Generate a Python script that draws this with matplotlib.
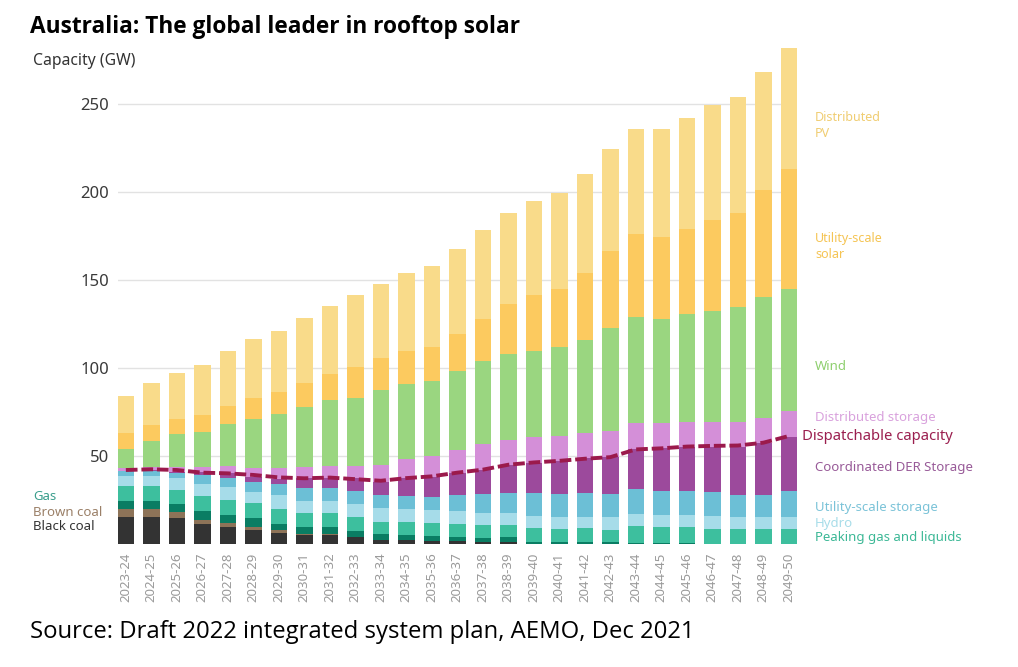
import numpy as np
import matplotlib
matplotlib.use("Agg")
import matplotlib.pyplot as plt

plt.rcParams['font.family'] = ['Noto Sans', 'DejaVu Sans']

years = ['2023-24', '2024-25', '2025-26', '2026-27', '2027-28', '2028-29', '2029-30',
         '2030-31', '2031-32', '2032-33', '2033-34', '2034-35', '2035-36', '2036-37',
         '2037-38', '2038-39', '2039-40', '2040-41', '2041-42', '2042-43', '2043-44',
         '2044-45', '2045-46', '2046-47', '2047-48', '2048-49', '2049-50']

# capacity in GW (bottom to top)
black_coal = [15.1, 15.5, 14.6, 11.3, 9.5, 7.9, 6.5, 5.1, 5.1, 4.2, 2.3, 2.0, 1.8, 1.5,
              1.3, 1.2, 0, 0, 0, 0, 0, 0, 0, 0, 0, 0, 0]
brown_coal = [4.8, 4.4, 3.8, 2.6, 2.6, 1.9, 1.4, 0.6, 0.5, 0, 0, 0, 0, 0,
              0, 0, 0, 0, 0, 0, 0, 0, 0, 0, 0, 0, 0]
gas = [4.7, 4.7, 4.3, 4.8, 4.4, 4.8, 3.7, 3.8, 3.9, 3.2, 3.2, 3.2, 3.0, 2.7,
       1.9, 2.6, 1.3, 1.1, 0.9, 0.9, 0.6, 0.6, 0.4, 0, 0, 0, 0]
peaking_gas = [8.3, 8.3, 7.9, 8.5, 8.5, 8.5, 8.5, 7.9, 7.9, 8.1, 7.2, 7.5, 7.0, 7.0,
               7.6, 7.0, 7.7, 7.3, 8.1, 7.0, 9.6, 8.9, 9.4, 8.3, 8.3, 8.3, 8.3]
hydro = [5.7, 5.9, 6.7, 6.9, 7.2, 6.6, 7.5, 7.2, 7.2, 7.2, 7.6, 7.2, 7.5, 7.5,
         7.0, 7.0, 6.9, 7.1, 6.5, 7.2, 6.8, 7.0, 6.7, 7.6, 7.2, 7.2, 7.2]
utility_storage = [2.6, 2.7, 3.2, 5.1, 5.1, 5.6, 6.3, 7.0, 7.0, 7.4, 7.5, 7.5, 7.6, 9.1,
                   10.6, 11.3, 12.9, 12.9, 13.3, 13.3, 14.2, 13.8, 13.8, 13.8, 12.3, 12.3, 14.8]
coord_der = [0.3, 0.3, 0.5, 1.8, 2.8, 2.9, 3.2, 5.7, 5.7, 7.2, 7.6, 9.9, 11.3, 12.7,
             13.6, 15.7, 17.0, 18.9, 19.8, 20.8, 22.5, 24.0, 25.0, 25.6, 27.5, 29.4, 30.7]
dist_storage = [1.5, 1.7, 2.9, 2.9, 4.2, 4.7, 5.8, 6.2, 7.0, 7.0, 9.4, 10.7, 11.6, 12.9,
                14.7, 14.5, 14.9, 14.0, 14.6, 15.2, 14.7, 14.5, 13.9, 14.1, 14.2, 14.2, 14.3]
wind = [11.1, 15.0, 18.8, 19.7, 24.0, 27.9, 31.1, 34.3, 37.7, 38.6, 42.8, 42.6, 42.6, 44.6,
        47.2, 48.8, 48.8, 50.5, 52.4, 58.4, 60.4, 58.7, 61.6, 62.8, 65.0, 68.8, 69.6]
utility_solar = [9.1, 9.3, 8.5, 9.4, 9.8, 12.1, 12.1, 13.8, 14.3, 17.6, 18.0, 18.8, 19.4, 21.4,
                 24.0, 28.3, 31.6, 33.1, 38.2, 43.5, 47.0, 46.7, 48.2, 51.9, 53.4, 60.5, 68.1]
distributed_pv = [20.8, 23.6, 26.1, 28.8, 31.3, 33.3, 35.0, 36.7, 38.8, 40.8, 42.2, 44.6, 46.1, 48.2,
                  50.1, 51.5, 53.6, 54.5, 56.0, 57.7, 59.9, 61.5, 63.0, 64.9, 65.8, 67.2, 68.7]
dispatchable = [42.0, 42.4, 42.0, 40.5, 40.1, 39.2, 37.8, 37.3, 37.7, 36.8, 35.9, 37.4, 38.4, 40.5,
                42.2, 45.0, 46.3, 47.2, 48.4, 49.3, 53.7, 54.3, 55.3, 55.7, 55.9, 57.5, 61.3]

series = [
    (black_coal, '#333333'),
    (brown_coal, '#8d7358'),
    (gas, '#0a7d63'),
    (peaking_gas, '#3dbf9e'),
    (hydro, '#a6dce9'),
    (utility_storage, '#6cbfd6'),
    (coord_der, '#9c4a9c'),
    (dist_storage, '#d48fd8'),
    (wind, '#9ad680'),
    (utility_solar, '#fcca5f'),
    (distributed_pv, '#f9db8a'),
]

W, H = 1018, 667
fig = plt.figure(figsize=(W / 100, H / 100), dpi=100)
ax = fig.add_axes([117.7 / W, (H - 544) / H, (797 - 117.7) / W, (544 - 47) / H])

x = np.arange(len(years))
bottom = np.zeros(len(years))
for vals, col in series:
    vals = np.array(vals)
    ax.bar(x, vals, width=0.64, bottom=bottom, color=col, linewidth=0, zorder=2)
    bottom += vals

ax.plot(x, dispatchable, color='#9b1a4c', lw=2.8, dashes=(3, 1), zorder=3)

ax.set_xlim(-0.32, 26.32)
ax.set_ylim(0, 282.1)
ax.set_yticks([50, 100, 150, 200, 250])
ax.grid(axis='y', color='#e2e2e2', lw=1, zorder=0)
ax.set_axisbelow(True)
for s in ax.spines.values():
    s.set_visible(False)
ax.tick_params(axis='y', length=0, pad=6, labelsize=12, labelcolor='#3a3a3a')
ax.set_xticks(x)
ax.set_xticklabels(years, rotation=90, fontsize=9.5, color='#9a9a9a')
ax.tick_params(axis='x', length=0, pad=6)

def ftext(px, py, s, **kw):
    fig.text(px / W, 1 - py / H, s, va='center', ha='left', **kw)

ftext(30, 27, 'Australia: The global leader in rooftop solar', fontsize=16.3,
      fontweight='bold', color='black', family='Open Sans')
ftext(30, 632, 'Source: Draft 2022 integrated system plan, AEMO, Dec 2021', fontsize=17.2,
      color='black', family='Open Sans')
ftext(33, 61, 'Capacity (GW)', fontsize=11.3, color='#333333')

ftext(815, 125.5, 'Distributed\nPV', fontsize=9, color='#f0cd72', linespacing=1.3)
ftext(815, 246.5, 'Utility-scale\nsolar', fontsize=9, color='#f5c453', linespacing=1.3)
ftext(815, 366, 'Wind', fontsize=9.5, color='#8ecf6e')
ftext(815, 417, 'Distributed storage', fontsize=9.5, color='#d9a2dd')
ftext(802, 437, 'Dispatchable capacity', fontsize=10.7, color='#9b1f4f')
ftext(815, 467, 'Coordinated DER Storage', fontsize=9.5, color='#985a98')
ftext(815, 507, 'Utility-scale storage', fontsize=9.5, color='#7bc3d8')
ftext(815, 523, 'Hydro', fontsize=9.5, color='#a8dde9')
ftext(815, 538, 'Peaking gas and liquids', fontsize=9.5, color='#3cb896')

ftext(33, 496, 'Gas', fontsize=9.5, color='#3a9e8c')
ftext(33, 512, 'Brown coal', fontsize=9.5, color='#9b8068')
ftext(33, 527, 'Black coal', fontsize=9.5, color='#333333')

fig.savefig('out.png', dpi=100)
